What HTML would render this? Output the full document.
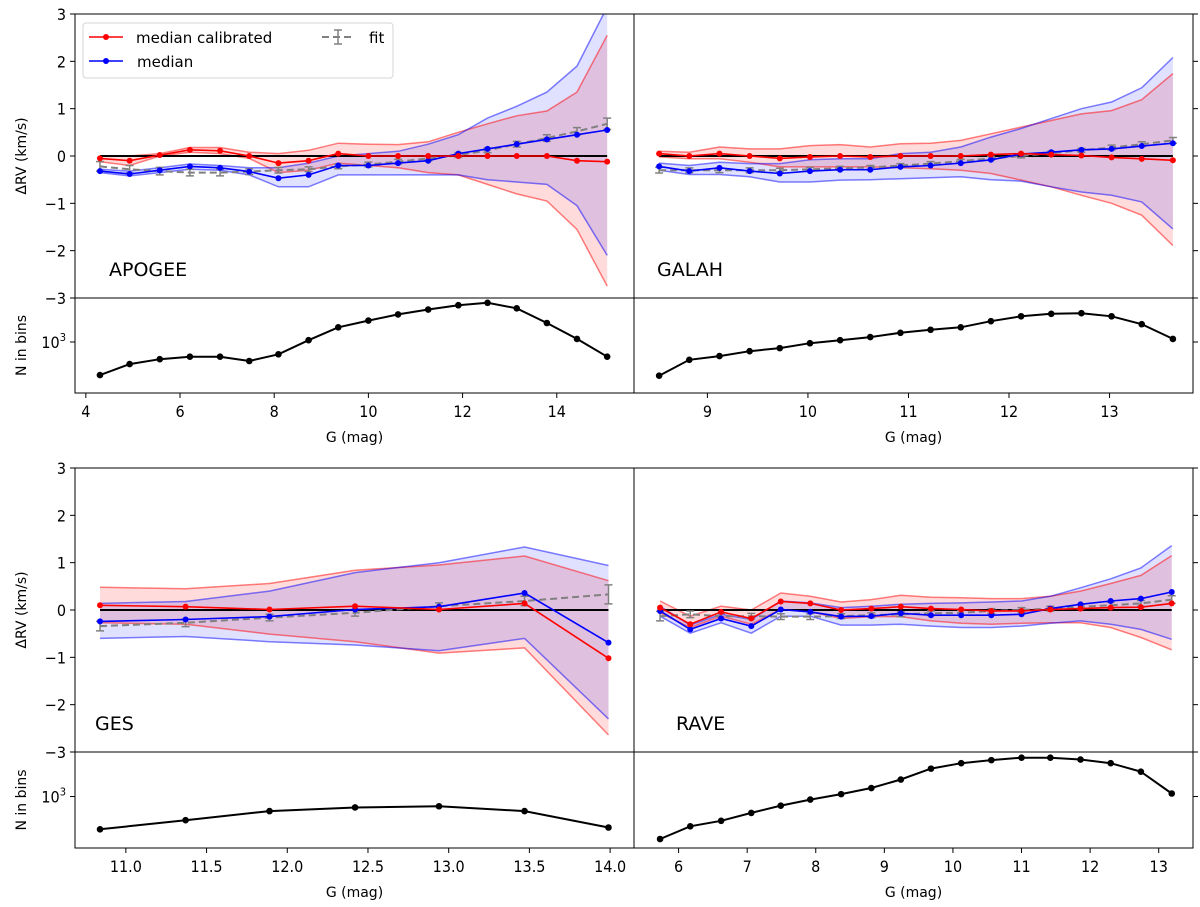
<!DOCTYPE html>
<html><head><meta charset="utf-8"><style>
html,body{margin:0;padding:0;background:#fff;}
svg{display:block;font-family:"DejaVu Sans","Liberation Sans",sans-serif;}
.tk{font-family:"DejaVu Sans Condensed","DejaVu Sans","Liberation Sans",sans-serif;}
</style></head><body>
<svg id="fig" width="1200" height="907" viewBox="0 0 1200 907" xmlns="http://www.w3.org/2000/svg"></svg>
<script>
// ---------- APOGEE ----------
const apoX = [4.30,4.93,5.57,6.21,6.85,7.47,8.09,8.73,9.36,10.0,10.63,11.27,11.91,12.53,13.15,13.79,14.43,15.07];
const apoRedMed = [-0.05,-0.1,0.02,0.13,0.11,0.0,-0.15,-0.1,0.05,0.0,0.0,0.0,0.0,0.0,0.0,0.0,-0.1,-0.12];
const apoRedUp = [0.0,0.0,0.05,0.18,0.18,0.08,0.05,0.12,0.27,0.25,0.24,0.3,0.5,0.68,0.85,0.95,1.35,2.55];
const apoRedLo = [-0.12,-0.2,0.0,0.08,0.05,-0.05,-0.35,-0.3,-0.15,-0.2,-0.25,-0.35,-0.4,-0.6,-0.8,-0.95,-1.55,-2.75];
const apoBlueMed = [-0.32,-0.38,-0.3,-0.22,-0.25,-0.33,-0.47,-0.4,-0.2,-0.2,-0.15,-0.1,0.05,0.15,0.25,0.35,0.45,0.55];
const apoBlueUp = [-0.28,-0.32,-0.25,-0.17,-0.2,-0.25,-0.25,-0.15,0.0,0.05,0.1,0.25,0.45,0.8,1.05,1.35,1.9,3.15];
const apoBlueLo = [-0.35,-0.42,-0.35,-0.28,-0.3,-0.4,-0.65,-0.65,-0.4,-0.4,-0.4,-0.4,-0.4,-0.5,-0.55,-0.6,-1.05,-2.1];
const apoFit = [-0.22,-0.28,-0.32,-0.35,-0.35,-0.33,-0.3,-0.28,-0.22,-0.18,-0.12,-0.05,0.02,0.12,0.25,0.38,0.52,0.68];
const apoFitErr = [0.1,0.08,0.08,0.07,0.07,0.06,0.06,0.05,0.05,0.05,0.05,0.05,0.05,0.05,0.06,0.07,0.08,0.12];
const apoLogN = [2.46,2.64,2.72,2.76,2.76,2.69,2.80,3.03,3.24,3.35,3.45,3.53,3.60,3.64,3.55,3.31,3.05,2.76];
const apoTicks = [4,6,8,10,12,14];
const apoTickLabels = ["4","6","8","10","12","14"];
// ---------- GALAH ----------
const galX = [8.52,8.82,9.12,9.42,9.72,10.02,10.32,10.62,10.92,11.22,11.52,11.82,12.12,12.42,12.72,13.02,13.32,13.63];
const galRedMed = [0.05,0,0.05,0,-0.05,-0.02,0,-0.02,0,0,0,0.03,0.05,0.03,0.01,-0.03,-0.06,-0.09];
const galRedUp = [0.1,0.08,0.19,0.15,0.15,0.22,0.24,0.19,0.26,0.27,0.33,0.47,0.61,0.75,0.89,0.96,1.19,1.74];
const galRedLo = [-0.02,-0.06,-0.06,-0.13,-0.23,-0.23,-0.23,-0.23,-0.25,-0.27,-0.3,-0.37,-0.51,-0.65,-0.83,-1.0,-1.25,-1.89];
const galBlueMed = [-0.22,-0.32,-0.25,-0.32,-0.37,-0.32,-0.29,-0.29,-0.23,-0.2,-0.15,-0.08,0.04,0.08,0.13,0.15,0.21,0.27];
const galBlueUp = [-0.15,-0.2,-0.13,-0.16,-0.16,-0.08,-0.06,-0.06,0.05,0.08,0.19,0.4,0.58,0.79,1.0,1.14,1.44,2.08];
const galBlueLo = [-0.3,-0.39,-0.39,-0.44,-0.55,-0.55,-0.51,-0.5,-0.48,-0.46,-0.44,-0.5,-0.53,-0.65,-0.76,-0.83,-0.97,-1.54];
const galFit = [-0.3,-0.3,-0.3,-0.3,-0.3,-0.28,-0.26,-0.24,-0.2,-0.16,-0.11,-0.05,0.0,0.06,0.12,0.18,0.25,0.33];
const galFitErr = [0.06,0.05,0.05,0.05,0.04,0.04,0.04,0.04,0.04,0.04,0.04,0.04,0.04,0.04,0.04,0.05,0.05,0.06];
const galLogN = [2.45,2.71,2.77,2.85,2.90,2.98,3.03,3.08,3.15,3.20,3.24,3.34,3.42,3.46,3.47,3.42,3.29,3.05];
const galTicks = [9,10,11,12,13];
const galTickLabels = ["9","10","11","12","13"];
// ---------- GES ----------
const gesX = [10.84,11.37,11.89,12.42,12.94,13.47,13.99];
const gesRedMed = [0.1,0.07,0.01,0.08,0.01,0.14,-1.02];
const gesRedUp = [0.48,0.45,0.56,0.84,0.95,1.14,0.62];
const gesRedLo = [-0.27,-0.3,-0.51,-0.67,-0.91,-0.8,-2.64];
const gesBlueMed = [-0.24,-0.2,-0.14,0.01,0.07,0.36,-0.69];
const gesBlueUp = [0.14,0.18,0.4,0.79,1.0,1.33,0.94];
const gesBlueLo = [-0.6,-0.56,-0.67,-0.74,-0.86,-0.6,-2.3];
const gesFit = [-0.34,-0.27,-0.16,-0.06,0.08,0.19,0.33];
const gesFitErr = [0.1,0.08,0.07,0.07,0.07,0.1,0.2];
const gesLogN = [2.46,2.61,2.76,2.82,2.84,2.76,2.49];
const gesTicks = [11.0,11.5,12.0,12.5,13.0,13.5,14.0];
const gesTickLabels = ["11.0","11.5","12.0","12.5","13.0","13.5","14.0"];
// ---------- RAVE ----------
const ravX = [5.73,6.17,6.62,7.06,7.49,7.92,8.37,8.81,9.24,9.68,10.12,10.56,11.0,11.42,11.86,12.3,12.74,13.19];
const ravRedMed = [0.05,-0.3,-0.04,-0.18,0.18,0.14,0,0.03,0.07,0.03,0.01,-0.02,-0.02,0.01,0.03,0.05,0.06,0.14];
const ravRedUp = [0.19,-0.13,0.08,0,0.36,0.29,0.17,0.22,0.31,0.27,0.26,0.24,0.24,0.29,0.4,0.56,0.73,1.15];
const ravRedLo = [-0.06,-0.37,-0.13,-0.3,0.01,-0.04,-0.18,-0.14,-0.14,-0.23,-0.28,-0.3,-0.28,-0.27,-0.27,-0.37,-0.58,-0.84];
const ravBlueMed = [-0.02,-0.41,-0.18,-0.34,0.01,-0.04,-0.14,-0.13,-0.07,-0.11,-0.11,-0.11,-0.09,0.03,0.12,0.19,0.24,0.38];
const ravBlueUp = [0.08,-0.32,-0.09,-0.2,0.19,0.15,0.05,0.08,0.12,0.14,0.15,0.17,0.19,0.29,0.47,0.66,0.89,1.36];
const ravBlueLo = [-0.13,-0.49,-0.27,-0.49,-0.13,-0.13,-0.32,-0.32,-0.3,-0.34,-0.37,-0.37,-0.34,-0.28,-0.23,-0.3,-0.41,-0.62];
const ravFit = [-0.13,-0.09,-0.13,-0.13,-0.14,-0.14,-0.13,-0.11,-0.09,-0.07,-0.06,-0.02,0,0.03,0.07,0.1,0.14,0.22];
const ravFitErr = [0.1,0.07,0.06,0.06,0.06,0.06,0.05,0.05,0.05,0.05,0.05,0.05,0.05,0.05,0.05,0.06,0.06,0.08];
const ravLogN = [2.30,2.51,2.60,2.73,2.85,2.95,3.04,3.14,3.28,3.46,3.55,3.60,3.64,3.64,3.61,3.55,3.41,3.05];
const ravTicks = [6,7,8,9,10,11,12,13];
const ravTickLabels = ["6","7","8","9","10","11","12","13"];
const yTicks = [-3,-2,-1,0,1,2,3];
const yTickLabels = ["\u22123","\u22122","\u22121","0","1","2","3"];

const NS = "http://www.w3.org/2000/svg";
const fig = document.getElementById('fig');
function mk(tag, attrs, parent, text){
  const e = document.createElementNS(NS, tag);
  for (const k in attrs) e.setAttribute(k, attrs[k]);
  if (text !== undefined) e.textContent = text;
  (parent || fig).appendChild(e);
  return e;
}

function panel(cfg){
  const g = mk('g', {});
  
  
  const L = cfg.left, R = cfg.right, T = cfg.top, M = cfg.mid, B = cfg.bottom;
  const sx = v => L + (v - cfg.xmin) / (cfg.xmax - cfg.xmin) * (R - L);
  const sy = v => T + (3 - v) / 6 * (M - T);
  const sn = v => M + (cfg.nmax - v) / (cfg.nmax - cfg.nmin) * (B - M);
  const pts = (xs, ys, f) => xs.map((x, i) => sx(x).toFixed(1) + ',' + f(ys[i]).toFixed(1)).join(' ');
  const band = (xs, up, lo) => xs.map((x, i) => sx(x).toFixed(1) + ',' + sy(up[i]).toFixed(1)).join(' ') + ' ' +
      xs.slice().reverse().map((x, j) => { const i = xs.length - 1 - j; return sx(x).toFixed(1) + ',' + sy(lo[i]).toFixed(1); }).join(' ');
  const clipId = 'clip-' + cfg.name;
  const cp = mk('clipPath', {id: clipId}, g);
  mk('rect', {x: L, y: T, width: R - L, height: M - T}, cp);
  const data = mk('g', {'clip-path': 'url(#' + clipId + ')'}, g);

  const rb = mk('polygon', {points: band(cfg.x, cfg.redUp, cfg.redLo), fill: 'rgba(255,0,0,0.14)', stroke: 'none'}, data);
  
  
  const bb = mk('polygon', {points: band(cfg.x, cfg.blueUp, cfg.blueLo), fill: 'rgba(0,0,255,0.12)', stroke: 'none'}, data);
  
  
  [[cfg.redUp, 'rgba(255,0,0,0.5)'], [cfg.redLo, 'rgba(255,0,0,0.5)'], [cfg.blueUp, 'rgba(0,0,255,0.5)'], [cfg.blueLo, 'rgba(0,0,255,0.5)']].forEach(p => {
    const l = mk('polyline', {points: pts(cfg.x, p[0], sy), fill: 'none', stroke: p[1], 'stroke-width': 1.5}, data);
    
    
  });
  const zl = mk('line', {x1: sx(cfg.x[0]), x2: sx(cfg.x[cfg.x.length - 1]), y1: sy(0), y2: sy(0), stroke: '#000', 'stroke-width': 2}, data);
  
  
  const fl = mk('polyline', {points: pts(cfg.x, cfg.fit, sy), fill: 'none', stroke: '#808080', 'stroke-width': 2, 'stroke-dasharray': '7,4'}, data);
  
  
  cfg.x.forEach((x, i) => {
    const eb = mk('path', {d: 'M' + (sx(x) - 4) + ',' + sy(cfg.fit[i] + cfg.fitErr[i]) + 'h8M' + sx(x) + ',' + sy(cfg.fit[i] + cfg.fitErr[i]) + 'V' + sy(cfg.fit[i] - cfg.fitErr[i]) + 'M' + (sx(x) - 4) + ',' + sy(cfg.fit[i] - cfg.fitErr[i]) + 'h8', stroke: '#808080', 'stroke-width': 1.5, fill: 'none'}, data);
    
    
  });
  [[cfg.blueMed, '#0000ff', 'median-line', 'median-point'], [cfg.redMed, '#ff0000', 'median-calibrated-line', 'median-calibrated-point']].forEach(p => {
    const l = mk('polyline', {points: pts(cfg.x, p[0], sy), fill: 'none', stroke: p[1], 'stroke-width': 1.6}, data);
    
    
    cfg.x.forEach((x, i) => {
      const c = mk('circle', {cx: sx(x), cy: sy(p[0][i]), r: 3, fill: p[1]}, data);
      
      
    });
  });
  const cl = mk('polyline', {points: pts(cfg.x, cfg.logN, sn), fill: 'none', stroke: '#000', 'stroke-width': 2}, g);
  
  
  cfg.x.forEach((x, i) => {
    const c = mk('circle', {cx: sx(x), cy: sn(cfg.logN[i]), r: 3.3, fill: '#000'}, g);
    
    
  });
  const f1 = mk('rect', {x: L, y: T, width: R - L, height: M - T, fill: 'none', stroke: '#000', 'stroke-width': 1}, g);
  
  
  const f2 = mk('rect', {x: L, y: M, width: R - L, height: B - M, fill: 'none', stroke: '#000', 'stroke-width': 1}, g);
  
  
  const tx = cfg.leftSide ? L : R, dir = cfg.leftSide ? -1 : 1;
  yTicks.forEach((t, i) => {
    mk('line', {x1: tx, x2: tx + dir * 5, y1: sy(t), y2: sy(t), stroke: '#000'}, g);
    if (cfg.leftSide) {
      const tl = mk('text', {class: 'tk', x: L - 9, y: sy(t) + 6, 'text-anchor': 'end', 'font-size': 16, fill: '#000'}, g, yTickLabels[i]);
      
      
    }
  });
  mk('line', {x1: tx, x2: tx + dir * 5, y1: sn(3), y2: sn(3), stroke: '#000'}, g);
  if (cfg.leftSide) {
    const nl = mk('text', {class: 'tk', x: L - 9, y: sn(3) + 6, 'text-anchor': 'end', 'font-size': 16, fill: '#000'}, g);
    
    
    nl.appendChild(document.createTextNode('10'));
    mk('tspan', {'font-size': 11, dy: -7}, nl, '3');
    const yl = mk('text', {x: 0, y: 0, transform: 'translate(26,' + ((T + M) / 2) + ') rotate(-90)', 'text-anchor': 'middle', 'font-size': 14, fill: '#000'}, g, '\u0394RV (km/s)');
    
    
    const nt = mk('text', {x: 0, y: 0, transform: 'translate(26,' + ((M + B) / 2) + ') rotate(-90)', 'text-anchor': 'middle', 'font-size': 14, fill: '#000'}, g, 'N in bins');
    
    
  }
  cfg.ticks.forEach((t, i) => {
    mk('line', {x1: sx(t), x2: sx(t), y1: B, y2: B + 5, stroke: '#000'}, g);
    const tl = mk('text', {class: 'tk', x: sx(t), y: B + 24, 'text-anchor': 'middle', 'font-size': 16, fill: '#000'}, g, cfg.tickLabels[i]);
    
    
  });
  const xt = mk('text', {x: (L + R) / 2, y: B + 49, 'text-anchor': 'middle', 'font-size': 14, fill: '#000'}, g, 'G (mag)');
  
  
  const nm = mk('text', {x: cfg.labelX, y: cfg.labelY, 'font-size': 19, fill: '#000'}, g, cfg.title);
  
  
}

panel({name:'apogee', title:'APOGEE', left:75, right:634, top:14, mid:298, bottom:393, xmin:3.77, xmax:15.64, nmin:2.168, nmax:3.718,
  x:apoX, redMed:apoRedMed, redUp:apoRedUp, redLo:apoRedLo, blueMed:apoBlueMed, blueUp:apoBlueUp, blueLo:apoBlueLo, fit:apoFit, fitErr:apoFitErr, logN:apoLogN,
  ticks:apoTicks, tickLabels:apoTickLabels, leftSide:true, labelX:109, labelY:276});
panel({name:'galah', title:'GALAH', left:634, right:1193, top:14, mid:298, bottom:393, xmin:8.27, xmax:13.83, nmin:2.168, nmax:3.718,
  x:galX, redMed:galRedMed, redUp:galRedUp, redLo:galRedLo, blueMed:galBlueMed, blueUp:galBlueUp, blueLo:galBlueLo, fit:galFit, fitErr:galFitErr, logN:galLogN,
  ticks:galTicks, tickLabels:galTickLabels, leftSide:false, labelX:657, labelY:276});
panel({name:'ges', title:'GES', left:75, right:634, top:468, mid:752, bottom:848, xmin:10.685, xmax:14.148, nmin:2.152, nmax:3.734,
  x:gesX, redMed:gesRedMed, redUp:gesRedUp, redLo:gesRedLo, blueMed:gesBlueMed, blueUp:gesBlueUp, blueLo:gesBlueLo, fit:gesFit, fitErr:gesFitErr, logN:gesLogN,
  ticks:gesTicks, tickLabels:gesTickLabels, leftSide:true, labelX:95, labelY:730});
panel({name:'rave', title:'RAVE', left:634, right:1193, top:468, mid:752, bottom:848, xmin:5.35, xmax:13.5, nmin:2.152, nmax:3.734,
  x:ravX, redMed:ravRedMed, redUp:ravRedUp, redLo:ravRedLo, blueMed:ravBlueMed, blueUp:ravBlueUp, blueLo:ravBlueLo, fit:ravFit, fitErr:ravFitErr, logN:ravLogN,
  ticks:ravTicks, tickLabels:ravTickLabels, leftSide:false, labelX:676, labelY:730});

const lg = mk('g', {});


mk('rect', {x: 83, y: 23, width: 310, height: 55, rx: 3, fill: 'rgba(255,255,255,0.85)', stroke: '#d6d6d6'}, lg);
const e1 = mk('g', {}, lg);


mk('line', {x1: 89, x2: 123, y1: 37, y2: 37, stroke: '#ff0000', 'stroke-width': 1.6}, e1);
mk('circle', {cx: 106, cy: 37, r: 3, fill: '#ff0000'}, e1);
mk('text', {x: 136, y: 43, 'font-size': 15, fill: '#000'}, e1, 'median calibrated');
const e2 = mk('g', {}, lg);


mk('line', {x1: 89, x2: 123, y1: 61, y2: 61, stroke: '#0000ff', 'stroke-width': 1.6}, e2);
mk('circle', {cx: 106, cy: 61, r: 3, fill: '#0000ff'}, e2);
mk('text', {x: 137, y: 67, 'font-size': 15, fill: '#000'}, e2, 'median');
const e3 = mk('g', {}, lg);


mk('line', {x1: 322, x2: 355, y1: 37, y2: 37, stroke: '#808080', 'stroke-width': 2, 'stroke-dasharray': '7,4'}, e3);
mk('path', {d: 'M334,30h8M338,30V44M334,44h8', stroke: '#808080', 'stroke-width': 1.5, fill: 'none'}, e3);
mk('text', {x: 369, y: 43, 'font-size': 15, fill: '#000'}, e3, 'fit');
</script>
</body></html>
